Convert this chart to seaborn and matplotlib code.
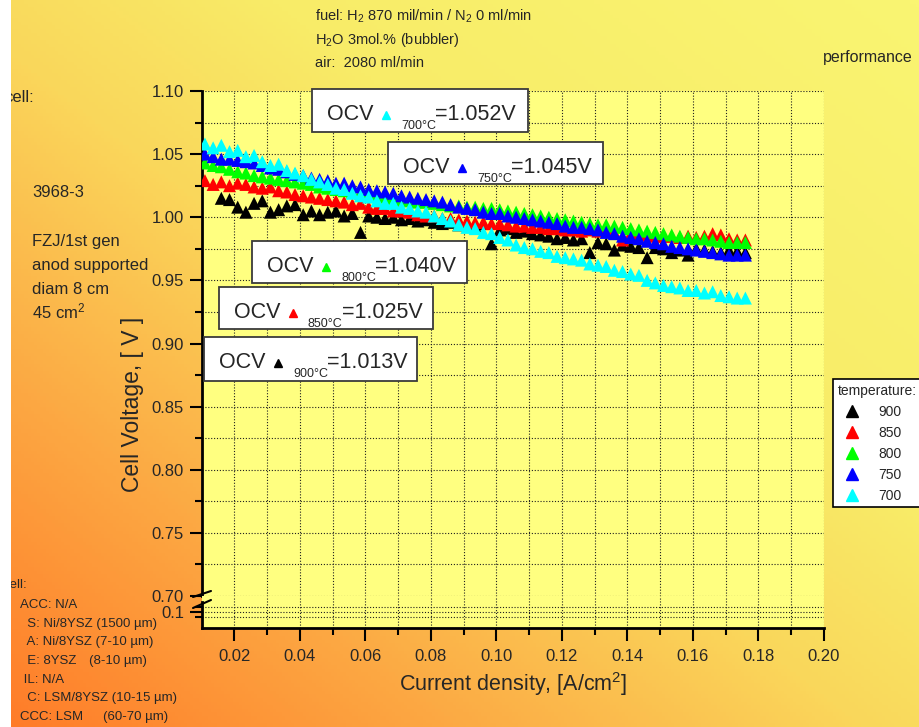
import matplotlib
matplotlib.use('Agg')
import matplotlib.pyplot as plt
import numpy as np
import pandas as pd
import seaborn as sns
from matplotlib.colors import LinearSegmentedColormap
from matplotlib.lines import Line2D
from matplotlib.patches import Rectangle
from matplotlib.ticker import FormatStrFormatter, MultipleLocator, FixedLocator

# current density [A/cm2], shared by all runs
current_density = [
    0.0110, 0.0135, 0.0160, 0.0185, 0.0210, 0.0235, 0.0260, 0.0285, 0.0310, 0.0335,
    0.0360, 0.0385, 0.0410, 0.0435, 0.0460, 0.0485, 0.0510, 0.0535, 0.0560, 0.0585,
    0.0610, 0.0635, 0.0660, 0.0685, 0.0710, 0.0735, 0.0760, 0.0785, 0.0810, 0.0835,
    0.0860, 0.0885, 0.0910, 0.0935, 0.0960, 0.0985, 0.1010, 0.1035, 0.1060, 0.1085,
    0.1110, 0.1135, 0.1160, 0.1185, 0.1210, 0.1235, 0.1260, 0.1285, 0.1310, 0.1335,
    0.1360, 0.1385, 0.1410, 0.1435, 0.1460, 0.1485, 0.1510, 0.1535, 0.1560, 0.1585,
    0.1610, 0.1635, 0.1660, 0.1685, 0.1710, 0.1735, 0.1760,
]
v_900 = [
    np.nan, np.nan, 1.015, 1.014, 1.008, 1.004, 1.011, 1.013, 1.004, 1.006,
    1.009, 1.010, 1.002, 1.005, 1.002, 1.004, 1.005, 1.001, 1.003, 0.988,
    1.001, 1.000, 0.999, 1.000, 0.998, 0.999, 0.997, 0.998, 0.996, 0.995,
    0.996, 0.994, 0.995, 0.993, 0.995, 0.979, 0.990, 0.991, 0.988, 0.989,
    0.987, 0.986, 0.985, 0.983, 0.984, 0.982, 0.983, 0.972, 0.980, 0.979,
    0.974, 0.978, 0.977, 0.976, 0.968, 0.976, 0.975, 0.972, 0.974, 0.970,
    0.975, 0.974, 0.973, 0.972, 0.974, 0.973, 0.972,
]
v_850 = [
    1.029, 1.026, 1.028, 1.025, 1.027, 1.026, 1.024, 1.023, 1.024, 1.021,
    1.020, 1.018, 1.017, 1.016, 1.015, 1.014, 1.013, 1.012, 1.010, 1.011,
    1.008, 1.007, 1.007, 1.005, 1.005, 1.004, 1.002, 1.001, 1.001, 0.999,
    0.999, 0.998, 0.997, 0.996, 0.996, 0.995, 0.995, 0.994, 0.993, 0.993,
    0.992, 0.992, 0.991, 0.991, 0.990, 0.990, 0.989, 0.990, 0.989, 0.992,
    0.988, 0.982, 0.987, 0.986, 0.986, 0.985, 0.985, 0.985, 0.984, 0.985,
    0.984, 0.985, 0.987, 0.986, 0.983, 0.982, 0.982,
]
v_800 = [
    1.043, 1.041, 1.040, 1.038, 1.036, 1.035, 1.033, 1.032, 1.031, 1.030,
    1.029, 1.028, 1.027, 1.026, 1.024, 1.023, 1.022, 1.021, 1.020, 1.019,
    1.018, 1.017, 1.016, 1.015, 1.014, 1.013, 1.012, 1.012, 1.011, 1.010,
    1.009, 1.009, 1.008, 1.008, 1.007, 1.007, 1.006, 1.005, 1.004, 1.003,
    1.002, 1.001, 1.000, 0.999, 0.998, 0.997, 0.996, 0.995, 0.994, 0.994,
    0.993, 0.992, 0.991, 0.990, 0.989, 0.988, 0.987, 0.986, 0.985, 0.984,
    0.983, 0.983, 0.982, 0.981, 0.980, 0.980, 0.980,
]
v_750 = [
    1.050, 1.048, 1.046, 1.046, 1.045, 1.044, 1.043, 1.041, 1.039, 1.038,
    1.036, 1.034, 1.033, 1.031, 1.030, 1.029, 1.027, 1.027, 1.025, 1.024,
    1.022, 1.021, 1.020, 1.019, 1.017, 1.016, 1.015, 1.014, 1.013, 1.012,
    1.010, 1.008, 1.007, 1.006, 1.004, 1.003, 1.003, 1.001, 1.000, 0.999,
    0.998, 0.997, 0.996, 0.995, 0.993, 0.992, 0.992, 0.991, 0.990, 0.988,
    0.987, 0.985, 0.984, 0.983, 0.981, 0.980, 0.979, 0.977, 0.976, 0.975,
    0.974, 0.973, 0.972, 0.971, 0.970, 0.970, 0.970,
]
v_700 = [
    1.058, 1.055, 1.057, 1.052, 1.053, 1.048, 1.049, 1.044, 1.041, 1.042,
    1.037, 1.035, 1.033, 1.030, 1.028, 1.026, 1.023, 1.022, 1.019, 1.017,
    1.016, 1.013, 1.011, 1.011, 1.008, 1.007, 1.005, 1.004, 1.001, 0.999,
    0.997, 0.994, 0.992, 0.991, 0.988, 0.987, 0.984, 0.982, 0.978, 0.976,
    0.975, 0.973, 0.972, 0.969, 0.968, 0.967, 0.966, 0.963, 0.962, 0.961,
    0.958, 0.957, 0.955, 0.954, 0.950, 0.948, 0.946, 0.945, 0.944, 0.942,
    0.942, 0.940, 0.941, 0.938, 0.937, 0.936, 0.936,
]
temperatures = ['900', '850', '800', '750', '700']
colors = ['#000000', '#FF0000', '#00FF00', '#0000FF', '#00FFFF']

ocv_temps = ['700', '750', '800', '850', '900']
ocv_values = [1.052, 1.045, 1.040, 1.025, 1.013]
ocv_colors = ['#00FFFF', '#0000FF', '#00FF00', '#FF0000', '#000000']

cell_info = ['FZJ/1st gen', 'anod supported', 'diam 8 cm', '45 cm$^2$']
layers = [('ACC: N/A', ''), ('  S: Ni/8YSZ (1500 µm)', ''), ('  A: Ni/8YSZ (7-10 µm)', ''),
          ('  E: 8YSZ', '(8-10 µm)'), (' IL: N/A', ''), ('  C: LSM/8YSZ (10-15 µm)', ''),
          ('CCC: LSM', '(60-70 µm)')]
conditions = ['fuel: H$_2$ 870 mil/min / N$_2$ 0 ml/min', 'H$_2$O 3mol.% (bubbler)', 'air:  2080 ml/min']

W, H = 919, 727


def fx(px):
    return px / W


def fy(py):
    return 1 - py / H


sns.set_style('ticks')
plt.rcParams['font.family'] = ['Liberation Sans', 'DejaVu Sans']
plt.rcParams['mathtext.default'] = 'regular'

fig = plt.figure(figsize=(W / 100, H / 100), dpi=100)
fig.patch.set_facecolor('white')

# orange -> yellow background
bg = fig.add_axes([0, 0, 1, 1], zorder=-10)
gy, gx = np.mgrid[0:1:200j, 0:1:300j]
cmap = LinearSegmentedColormap.from_list(
    'bg', [(0, '#FF7B28'), (0.25, '#FCAA44'), (0.47, '#FAD75B'), (0.65, '#F8EC68'), (1, '#FAF572')])
bg.imshow((gx + gy) / 2, cmap=cmap, origin='lower', extent=[0, 1, 0, 1], aspect='auto', vmin=0, vmax=1)
bg.set_axis_off()

ax = fig.add_axes([fx(202), fy(596), fx(824) - fx(202), (596 - 91) / H])
ax2 = fig.add_axes([fx(202), fy(628), fx(824) - fx(202), (628 - 596) / H], sharex=ax)

df = pd.DataFrame({
    'current_density': current_density * 5,
    'voltage': v_900 + v_850 + v_800 + v_750 + v_700,
    'temperature': [t for t in temperatures for _ in current_density],
})
sns.scatterplot(data=df, x='current_density', y='voltage', hue='temperature', hue_order=temperatures,
                palette=dict(zip(temperatures, colors)), marker='^', s=88, linewidth=0,
                legend=False, ax=ax, zorder=3)

grid_kw = dict(color='#202020', linestyle=(0, (1, 1.6)), linewidth=0.8)
for a in (ax, ax2):
    a.set_facecolor('#FFFF80')
    a.spines['top'].set_visible(False)
    a.spines['right'].set_visible(False)
    a.spines['left'].set_linewidth(2)
    a.spines['left'].set_color('black')
    a.grid(which='both', **grid_kw)
    a.set_axisbelow(True)
    a.set_xlabel('')
    a.set_ylabel('')
    a.tick_params(axis='y', which='major', length=9, width=1.5, color='black', labelsize=12, pad=4)
    a.tick_params(axis='y', which='minor', length=5, width=1.5, color='black')

ax.set_xlim(0.0101, 0.20)
ax.xaxis.set_major_locator(MultipleLocator(0.02))
ax.xaxis.set_minor_locator(MultipleLocator(0.01))
ax.set_ylim(0.70, 1.10)
ax.yaxis.set_major_locator(MultipleLocator(0.05))
ax.yaxis.set_minor_locator(MultipleLocator(0.025))
ax.yaxis.set_major_formatter(FormatStrFormatter('%.2f'))
ax.spines['bottom'].set_visible(False)
ax.tick_params(axis='x', which='both', bottom=False, labelbottom=False)

ax2.set_ylim(0.07, 0.13)
ax2.yaxis.set_major_locator(FixedLocator([0.1]))
ax2.yaxis.set_minor_locator(FixedLocator([0.09, 0.11]))
ax2.yaxis.set_major_formatter(FormatStrFormatter('%.1f'))
ax2.spines['left'].set_bounds(0.07, 0.118)
ax2.spines['bottom'].set_linewidth(2)
ax2.spines['bottom'].set_color('black')
ax2.xaxis.set_major_formatter(FormatStrFormatter('%.2f'))
ax2.tick_params(axis='x', which='major', length=9, width=1.5, color='black', labelsize=12, pad=6)
ax2.tick_params(axis='x', which='minor', length=5, width=1.5, color='black')

# axis break marks
for y0, y1 in [(597, 591), (608, 600)]:
    fig.add_artist(Line2D([fx(193), fx(211)], [fy(y0), fy(y1)], color='black', lw=1.5,
                          transform=fig.transFigure, zorder=6))

fig.text(fx(133), fy(404), 'Cell Voltage, [ V ]', rotation=90, ha='center', va='center', fontsize=16.5)
fig.text(fx(513), fy(684), 'Current density, [A/cm$^2$]', ha='center', va='center', fontsize=15.5)

# OCV boxes
box_pos = [(312, 89, 216, 43), (388, 142, 215, 42), (252, 241, 215, 42), (219, 287, 214, 42), (204, 337, 213, 44)]
for (left, top, bw, bh), temp, val, col in zip(box_pos, ocv_temps, ocv_values, ocv_colors):
    fig.add_artist(Rectangle((fx(left), fy(top + bh)), bw / W, bh / H, transform=fig.transFigure,
                             facecolor='white', edgecolor='#3a3a3a', lw=1.3, zorder=5))
    fig.text(fx(left + 15), fy(top + 31), 'OCV', fontsize=15.5, va='baseline', zorder=6)
    fig.add_artist(Line2D([fx(left + 74)], [fy(top + 26)], transform=fig.transFigure, marker='^',
                          ms=6, color=col, ls='none', zorder=6))
    fig.text(fx(left + 89), fy(top + 40), f'{temp}°C', fontsize=9, va='baseline', zorder=6)
    fig.text(fx(left + 123), fy(top + 31), f'={val:.3f}V', fontsize=15.5, va='baseline', zorder=6)

# legend
handles = [Line2D([], [], marker='^', color=c, ls='none', markersize=8) for c in colors]
leg = fig.legend(handles, temperatures, title='temperature:', loc='upper left',
                 bbox_to_anchor=(fx(826), fy(372) - 0.3, 0.13, 0.3), mode='expand',
                 fontsize=10, title_fontsize=10, alignment='left', fancybox=False,
                 framealpha=1, labelspacing=0.5, borderpad=0.35, handletextpad=0.9,
                 handlelength=2.0)
leg.get_frame().set_edgecolor('black')
leg.get_frame().set_linewidth(1.2)

# header and side notes
for i, line in enumerate(conditions):
    fig.text(fx(315), fy(21 + 23 * i), line, fontsize=10.5, va='baseline')
fig.text(fx(823), fy(62), 'performance', fontsize=11.5, va='baseline')
fig.text(fx(4), fy(102), 'cell:', fontsize=12, va='baseline')
fig.text(fx(32), fy(197), '3968-3', fontsize=12, va='baseline')
for i, line in enumerate(cell_info):
    fig.text(fx(32), fy(246 + 24 * i), line, fontsize=12, va='baseline')
fig.text(fx(3), fy(588), 'cell:', fontsize=9.5, va='baseline')
tab_x = {'  E: 8YSZ': 89, 'CCC: LSM': 103}
for i, (lbl, thick) in enumerate(layers):
    fig.text(fx(20), fy(608 + 18.7 * i), lbl, fontsize=9.5, va='baseline')
    if thick:
        fig.text(fx(tab_x[lbl]), fy(608 + 18.7 * i), thick, fontsize=9.5, va='baseline')

# white strip on the left edge
fig.add_artist(Rectangle((0, 0), fx(11), 1, transform=fig.transFigure, facecolor='white',
                         edgecolor='none', zorder=20))

fig.savefig('out.png', dpi=100)
